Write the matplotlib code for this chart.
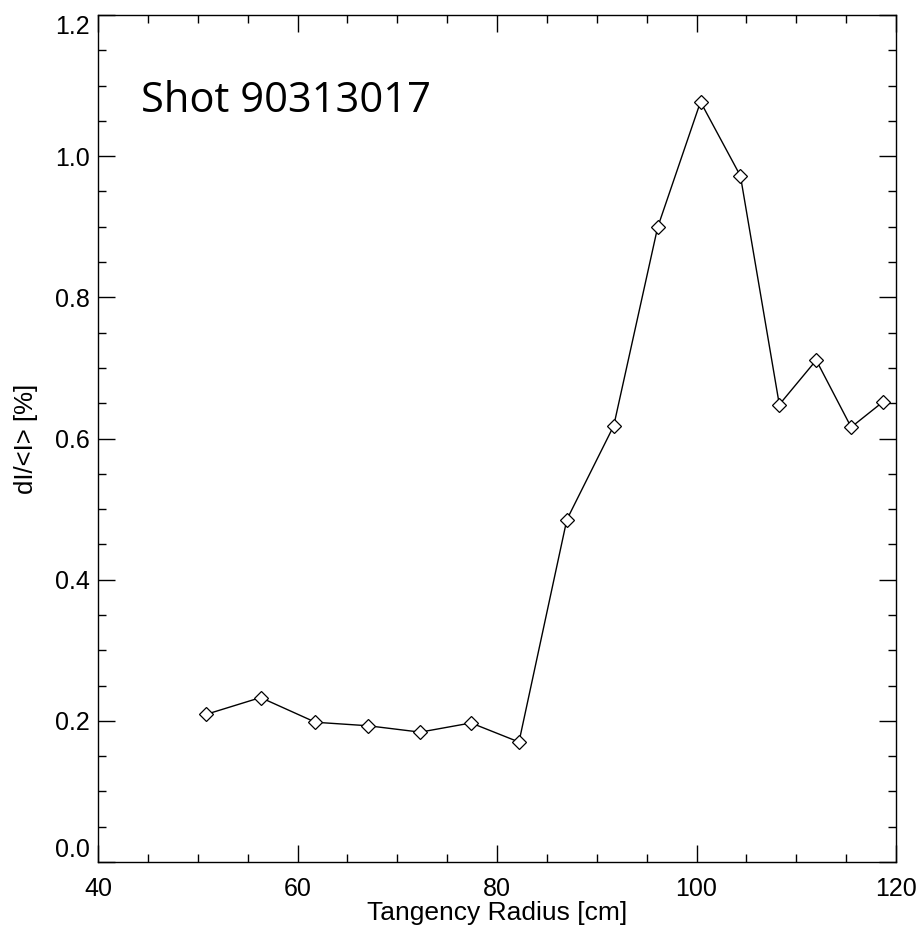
import matplotlib
matplotlib.use("Agg")
import matplotlib.pyplot as plt
from matplotlib.ticker import MultipleLocator, FormatStrFormatter

# Tangency radius [cm] and fluctuation level dI/<I> [%]
radius = [50.8, 56.3, 61.8, 67.1, 72.3, 77.4, 82.2, 87.0, 91.7, 96.1,
          100.4, 104.4, 108.3, 112.0, 115.5, 118.7]
dI = [0.209, 0.233, 0.198, 0.193, 0.184, 0.197, 0.170, 0.485, 0.618, 0.899,
      1.077, 0.972, 0.648, 0.711, 0.616, 0.652]

plt.rcParams['font.family'] = ['Liberation Sans', 'DejaVu Sans']

fig = plt.figure(figsize=(9.21, 9.31), dpi=100)
ax = fig.add_axes([0.1064, 0.0741, 0.8665, 0.9098])

ax.plot(radius, dI, color='black', lw=1.0, marker='D', markersize=7,
        markerfacecolor='white', markeredgecolor='black', markeredgewidth=0.9)

ax.set_xlim(40, 120)
ax.set_ylim(0, 1.2)
ax.xaxis.set_major_locator(MultipleLocator(20))
ax.xaxis.set_minor_locator(MultipleLocator(5))
ax.yaxis.set_major_locator(MultipleLocator(0.2))
ax.yaxis.set_minor_locator(MultipleLocator(0.05))
ax.yaxis.set_major_formatter(FormatStrFormatter('%.1f'))

ax.tick_params(which='both', direction='in', top=True, right=True, width=1.0)
ax.tick_params(which='major', length=12, labelsize=18)
ax.tick_params(axis='x', which='major', pad=11)
ax.tick_params(axis='y', which='major', pad=6)
ax.tick_params(which='minor', length=6)
for s in ax.spines.values():
    s.set_linewidth(1.0)

ax.set_xlabel('Tangency Radius [cm]', fontsize=19, labelpad=0)
ax.set_ylabel('dI/<I> [%]', fontsize=18.5, labelpad=12)

ax.text(0.054, 0.885, 'Shot 90313017', transform=ax.transAxes,
        fontsize=30, family=['Open Sans', 'DejaVu Sans'], va='baseline')

# end labels kept inside the axis range, as in the original
fig.canvas.draw()
ymin, ymax = ax.get_ylim()
for t in ax.yaxis.get_major_ticks():
    if abs(t.get_loc() - ymin) < 1e-6:
        t.label1.set_va('bottom')
    elif abs(t.get_loc() - ymax) < 1e-6:
        t.label1.set_va('top')

fig.savefig('out.png', dpi=100)
